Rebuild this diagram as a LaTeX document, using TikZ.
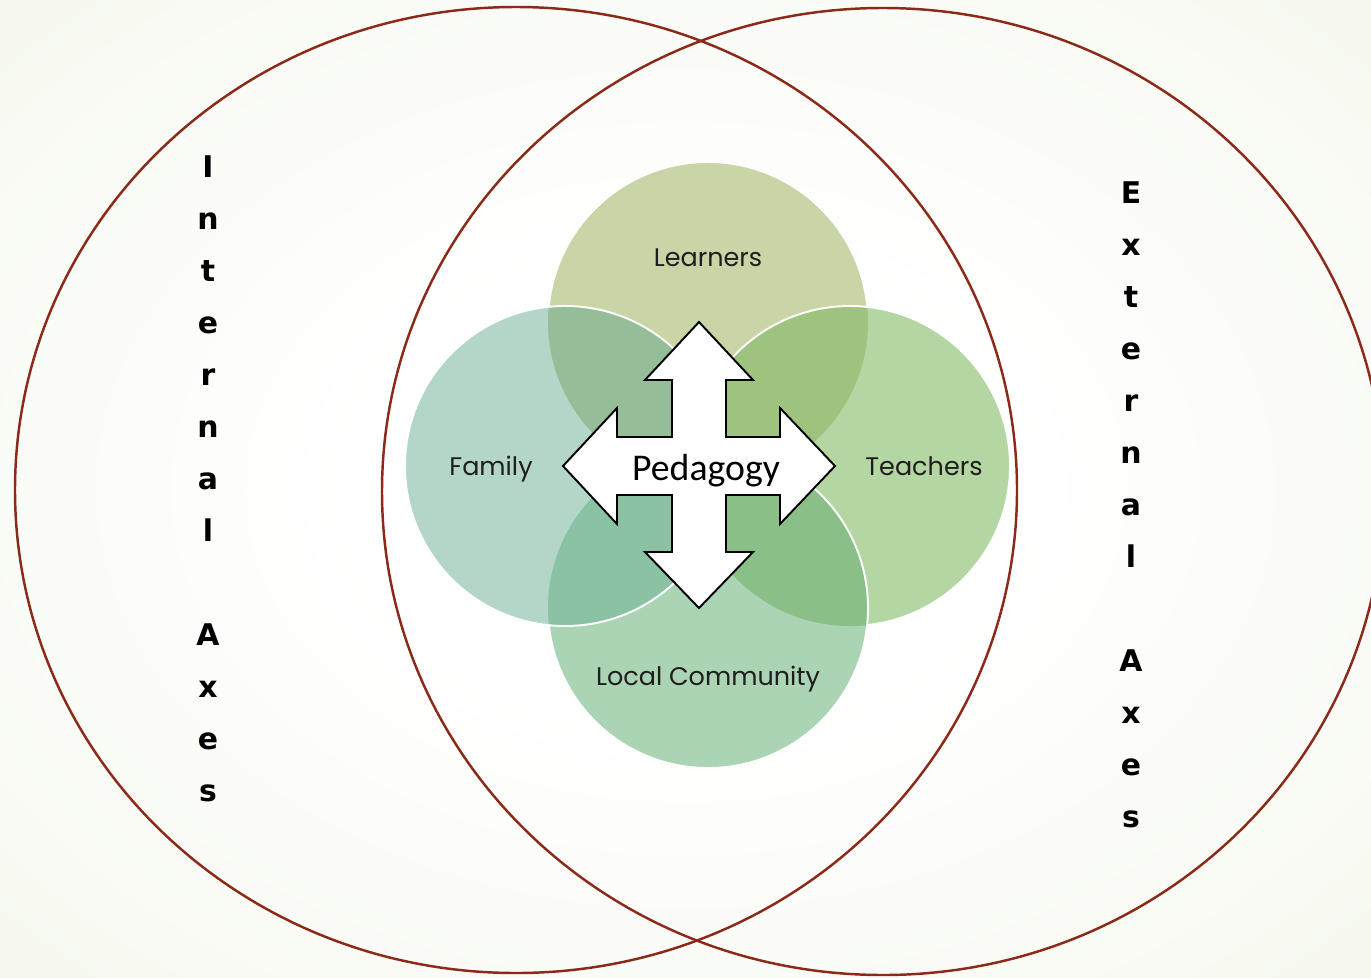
\documentclass[tikz,border=0pt]{standalone}
\usepackage{fontspec}
\setmainfont{Poppins}
\newfontfamily\calfont{Carlito}
\newfontfamily\axfont{DejaVu Sans}
\definecolor{bgmid}{HTML}{F1F5E6}
\definecolor{bgcorner}{HTML}{E5ECD0}
\definecolor{ringc}{HTML}{8B2A18}
\definecolor{learnc}{HTML}{C9D5A6}
\definecolor{famc}{HTML}{B3D6C8}
\definecolor{teachc}{HTML}{B4D6A3}
\definecolor{commc}{HTML}{AAD4B3}
\definecolor{LTc}{HTML}{9EC37F}
\definecolor{LFc}{HTML}{95BE98}
\definecolor{TCc}{HTML}{8ABF88}
\definecolor{FCc}{HTML}{8AC2A3}
\definecolor{txtc}{HTML}{1E1E1E}
\pgfdeclareradialshading{bgshade}{\pgfpoint{0bp}{0bp}}{color(0bp)=(white); color(12bp)=(white); color(50bp)=(bgmid); color(71bp)=(bgcorner)}
\begin{document}
\begin{tikzpicture}[x=0.02cm,y=-0.02cm,
  ring/.style={draw=ringc, line width=1.4pt},
  petal/.style={draw=white, line width=1.1pt},
  label/.style={text=txtc, font=\fontsize{14.5}{16}\selectfont, anchor=base, inner sep=0pt},
  axis/.style={text=black, font=\axfont\bfseries\fontsize{17}{18}\selectfont, anchor=base, inner sep=0pt},
  arrowshape/.style={draw=black, fill=white, line width=1.1pt, line join=miter}]
\useasboundingbox (0,0) rectangle (1371,977);
\clip (0,0) rectangle (1371,977);
\shade[shading=bgshade] (0,0) rectangle (1371,977);

% big rings
\coordinate (ringL) at (516,490);
\coordinate (ringR) at (883,491.5);
\draw[ring] (ringL) ellipse[x radius=501, y radius=483];
\draw[ring] (ringR) ellipse[x radius=501, y radius=483.5];

% petals
\coordinate (cL) at (708,322);
\coordinate (cF) at (565,466);
\coordinate (cT) at (850,466);
\coordinate (cC) at (708,608);

\fill[learnc] (cL) circle[radius=160];
\draw[petal] (cL) circle[radius=160];

\fill[teachc] (cT) circle[radius=160];
\begin{scope}
  \clip (cT) circle[radius=160];
  \fill[LTc] (cL) circle[radius=160];
\end{scope}
\draw[petal] (cT) circle[radius=160];

\fill[commc] (cC) circle[radius=160];
\begin{scope}
  \clip (cC) circle[radius=160];
  \fill[TCc] (cT) circle[radius=160];
\end{scope}
\draw[petal] (cC) circle[radius=160];

\fill[famc] (cF) circle[radius=160];
\begin{scope}
  \clip (cF) circle[radius=160];
  \fill[LFc] (cL) circle[radius=160];
  \fill[FCc] (cC) circle[radius=160];
\end{scope}
\draw[petal] (cF) circle[radius=160];

% quad arrow
\draw[arrowshape] (699,322) -- (753,380) -- (726,380) -- (726,437) -- (780,437) -- (780,408)
  -- (835,466) -- (780,524) -- (780,495) -- (726,495) -- (726,552) -- (753,552)
  -- (699,608) -- (645,552) -- (672,552) -- (672,495) -- (617,495) -- (617,524)
  -- (563,466) -- (617,408) -- (617,437) -- (672,437) -- (672,380) -- (645,380) -- cycle;

% labels
\node[label] (learners) at (708,266) {Learners};
\node[label] (family) at (491,475) {Family};
\node[label] (teachers) at (924,475) {Teachers};
\node[label] (community) at (708,685) {Local Community};
\node[anchor=base, inner sep=0pt, font=\calfont\fontsize{21.5}{23}\selectfont] (pedagogy) at (706,480) {Pedagogy};

% vertical axis words
\foreach \ch [count=\i] in {I,n,t,e,r,n,a,l,{},A,x,e,s}
  \node[axis] (int\i) at (208,{177+52*(\i-1)}) {\ch};
\foreach \ch [count=\i] in {E,x,t,e,r,n,a,l,{},A,x,e,s}
  \node[axis] (ext\i) at (1131,{203+52*(\i-1)}) {\ch};
\end{tikzpicture}
\end{document}
